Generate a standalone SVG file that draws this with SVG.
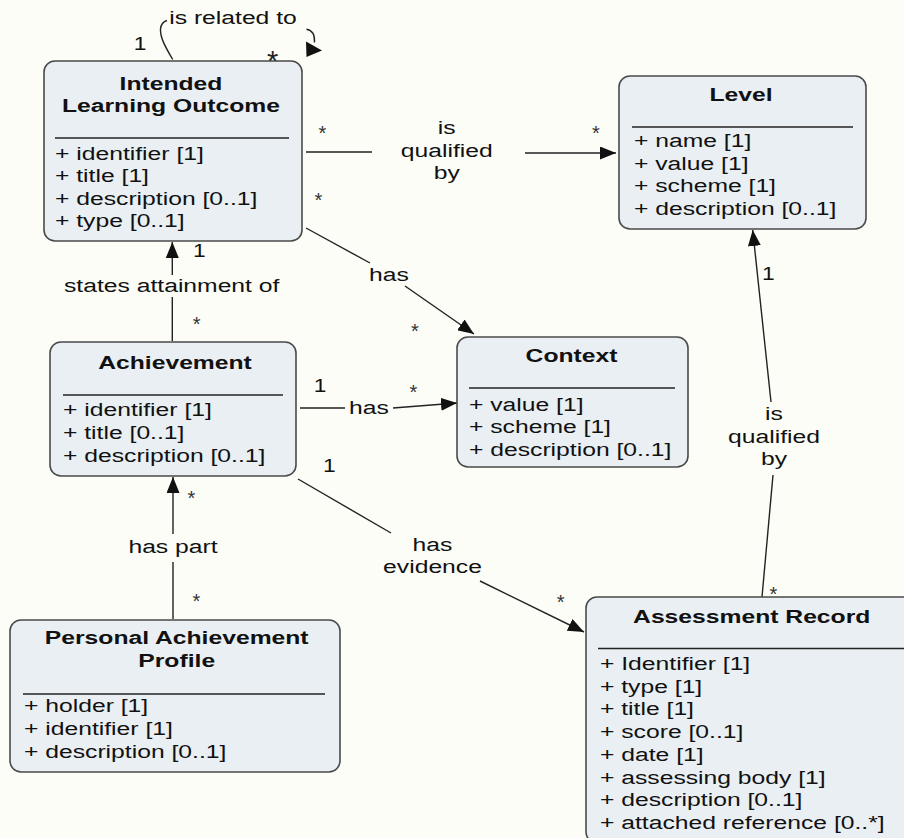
<svg xmlns="http://www.w3.org/2000/svg" width="904" height="838" viewBox="0 0 904 838">
<style>
.bg{fill:#fcfdf7}
.box{fill:#e9eff3;stroke:#4a4a4a;stroke-width:1.6}
.sep{stroke:#222;stroke-width:1.3}
.conn{stroke:#222;stroke-width:1.4;fill:none}
.title{font-family:"Liberation Sans",Arial,sans-serif;font-weight:bold;font-size:19px;text-anchor:middle;fill:#111}
.attr{font-family:"Liberation Sans",Arial,sans-serif;font-size:19px;fill:#111}
.lbl{font-family:"Liberation Sans",Arial,sans-serif;font-size:19px;text-anchor:middle;fill:#111}
.mult{font-family:"Liberation Sans",Arial,sans-serif;font-size:20px;text-anchor:middle;fill:#333}
.one{font-family:"Liberation Sans",Arial,sans-serif;font-size:19px;text-anchor:middle;fill:#111}
</style>
<defs>
<marker id="arr" markerUnits="userSpaceOnUse" markerWidth="16" markerHeight="13" refX="16" refY="6.5" orient="auto">
<path d="M0,0 L16,6.5 L0,13 z" fill="#111"/>
</marker>
</defs>
<rect class="bg" x="0" y="0" width="904" height="838"/>

<g id="connectors">
<!-- self loop: is related to -->
<path class="conn" d="M172.7,59.5 C166,48 160,38 160.5,29 C161,24 163.5,21.5 167,20.5"/>
<path class="conn" d="M306.5,29.3 C311,30 315,33.5 314.5,42.5"/>
<polygon points="306,41.5 322,50.5 306.5,57" fill="#111"/>
<g transform="translate(233,24) scale(1.3,1)"><text class="lbl" x="0" y="0">is related to</text></g>
<g transform="translate(140,50) scale(1.2,1)"><text class="one" x="0" y="0">1</text></g>
<text x="272.7" y="71" font-family="Liberation Sans, Arial, sans-serif" font-size="29" text-anchor="middle" fill="#222">*</text>

<!-- ILO is qualified by Level -->
<line class="conn" x1="306" y1="152" x2="372" y2="152"/>
<line class="conn" x1="525" y1="153" x2="616" y2="153" marker-end="url(#arr)"/>
<g transform="translate(446.7,134) scale(1.3,1)"><text class="lbl" x="0" y="0">is</text></g>
<g transform="translate(446.7,156.7) scale(1.3,1)"><text class="lbl" x="0" y="0">qualified</text></g>
<g transform="translate(446.7,179.3) scale(1.3,1)"><text class="lbl" x="0" y="0">by</text></g>
<text class="mult" x="322.3" y="139.6">*</text>
<text class="mult" x="596" y="140.3">*</text>

<!-- ILO has Context -->
<line class="conn" x1="306" y1="228" x2="370" y2="263"/>
<line class="conn" x1="405" y1="286" x2="474" y2="334" marker-end="url(#arr)"/>
<g transform="translate(389,280.7) scale(1.3,1)"><text class="lbl" x="0" y="0">has</text></g>
<text class="mult" x="318.3" y="207.3">*</text>
<text class="mult" x="415" y="338">*</text>

<!-- Achievement states attainment of ILO -->
<line class="conn" x1="172.3" y1="341" x2="172.3" y2="297"/>
<line class="conn" x1="172.3" y1="275" x2="172.3" y2="242" marker-end="url(#arr)"/>
<g transform="translate(171.7,292.3) scale(1.3,1)"><text class="lbl" x="0" y="0">states attainment of</text></g>
<g transform="translate(199.3,257.3) scale(1.2,1)"><text class="one" x="0" y="0">1</text></g>
<text class="mult" x="196.7" y="330.6">*</text>

<!-- Achievement has Context -->
<line class="conn" x1="300" y1="408" x2="345" y2="408"/>
<line class="conn" x1="393" y1="408" x2="457" y2="403" marker-end="url(#arr)"/>
<g transform="translate(369,414) scale(1.3,1)"><text class="lbl" x="0" y="0">has</text></g>
<g transform="translate(320,391.7) scale(1.2,1)"><text class="one" x="0" y="0">1</text></g>
<text class="mult" x="413.3" y="398.6">*</text>

<!-- Achievement has evidence Assessment Record -->
<line class="conn" x1="298" y1="479" x2="391" y2="533"/>
<line class="conn" x1="480" y1="581" x2="584" y2="632" marker-end="url(#arr)"/>
<g transform="translate(432.5,550.7) scale(1.3,1)"><text class="lbl" x="0" y="0">has</text></g>
<g transform="translate(432.5,573.3) scale(1.3,1)"><text class="lbl" x="0" y="0">evidence</text></g>
<g transform="translate(329.3,472.3) scale(1.2,1)"><text class="one" x="0" y="0">1</text></g>
<text class="mult" x="560.7" y="608.6">*</text>

<!-- PAP has part Achievement -->
<line class="conn" x1="173" y1="619" x2="173" y2="562"/>
<line class="conn" x1="173" y1="534" x2="173" y2="477" marker-end="url(#arr)"/>
<g transform="translate(173,552.7) scale(1.3,1)"><text class="lbl" x="0" y="0">has part</text></g>
<text class="mult" x="191.4" y="504.6">*</text>
<text class="mult" x="196.3" y="608">*</text>

<!-- Assessment Record is qualified by Level -->
<line class="conn" x1="762" y1="597" x2="773" y2="475"/>
<line class="conn" x1="771" y1="402" x2="752.7" y2="230" marker-end="url(#arr)"/>
<g transform="translate(774,420) scale(1.3,1)"><text class="lbl" x="0" y="0">is</text></g>
<g transform="translate(774,442.7) scale(1.3,1)"><text class="lbl" x="0" y="0">qualified</text></g>
<g transform="translate(774,465) scale(1.3,1)"><text class="lbl" x="0" y="0">by</text></g>
<g transform="translate(768.3,280) scale(1.2,1)"><text class="one" x="0" y="0">1</text></g>
<text class="mult" x="773.5" y="601.3">*</text>
</g>

<g id="ilo">
<rect class="box" x="44" y="61" width="258" height="180" rx="11"/>
<g transform="translate(171,90) scale(1.3,1)"><text class="title" x="0" y="0">Intended</text></g>
<g transform="translate(171,112) scale(1.3,1)"><text class="title" x="0" y="0">Learning Outcome</text></g>
<line class="sep" x1="55" y1="138" x2="289" y2="138"/>
<g transform="translate(55,159.5) scale(1.3,1)"><text class="attr" x="0" y="0">+ identifier [1]</text></g>
<g transform="translate(55,182) scale(1.3,1)"><text class="attr" x="0" y="0">+ title [1]</text></g>
<g transform="translate(55,204.5) scale(1.3,1)"><text class="attr" x="0" y="0">+ description [0..1]</text></g>
<g transform="translate(55,227) scale(1.3,1)"><text class="attr" x="0" y="0">+ type [0..1]</text></g>
</g>

<g id="level">
<rect class="box" x="619" y="76" width="247" height="153" rx="11"/>
<g transform="translate(741,101) scale(1.3,1)"><text class="title" x="0" y="0">Level</text></g>
<line class="sep" x1="632" y1="127" x2="853" y2="127"/>
<g transform="translate(634,147) scale(1.3,1)"><text class="attr" x="0" y="0">+ name [1]</text></g>
<g transform="translate(634,169.5) scale(1.3,1)"><text class="attr" x="0" y="0">+ value [1]</text></g>
<g transform="translate(634,192) scale(1.3,1)"><text class="attr" x="0" y="0">+ scheme [1]</text></g>
<g transform="translate(634,214.5) scale(1.3,1)"><text class="attr" x="0" y="0">+ description [0..1]</text></g>
</g>

<g id="context">
<rect class="box" x="457" y="337" width="231" height="130" rx="11"/>
<g transform="translate(571.5,362) scale(1.3,1)"><text class="title" x="0" y="0">Context</text></g>
<line class="sep" x1="469" y1="388" x2="675" y2="388"/>
<g transform="translate(469,411) scale(1.3,1)"><text class="attr" x="0" y="0">+ value [1]</text></g>
<g transform="translate(469,433) scale(1.3,1)"><text class="attr" x="0" y="0">+ scheme [1]</text></g>
<g transform="translate(469,455.5) scale(1.3,1)"><text class="attr" x="0" y="0">+ description [0..1]</text></g>
</g>

<g id="achievement">
<rect class="box" x="50" y="342" width="246" height="134" rx="11"/>
<g transform="translate(175,369) scale(1.3,1)"><text class="title" x="0" y="0">Achievement</text></g>
<line class="sep" x1="63" y1="395" x2="283" y2="395"/>
<g transform="translate(63,416) scale(1.3,1)"><text class="attr" x="0" y="0">+ identifier [1]</text></g>
<g transform="translate(63,439) scale(1.3,1)"><text class="attr" x="0" y="0">+ title [0..1]</text></g>
<g transform="translate(63,462) scale(1.3,1)"><text class="attr" x="0" y="0">+ description [0..1]</text></g>
</g>

<g id="pap">
<rect class="box" x="10" y="620" width="330" height="152" rx="11"/>
<g transform="translate(176.7,644) scale(1.3,1)"><text class="title" x="0" y="0">Personal Achievement</text></g>
<g transform="translate(176.7,666.7) scale(1.3,1)"><text class="title" x="0" y="0">Profile</text></g>
<line class="sep" x1="23" y1="694" x2="325" y2="694"/>
<g transform="translate(24,712) scale(1.3,1)"><text class="attr" x="0" y="0">+ holder [1]</text></g>
<g transform="translate(24,735) scale(1.3,1)"><text class="attr" x="0" y="0">+ identifier [1]</text></g>
<g transform="translate(24,758) scale(1.3,1)"><text class="attr" x="0" y="0">+ description [0..1]</text></g>
</g>

<g id="assessment-record">
<rect class="box" x="586" y="597" width="330" height="246" rx="11"/>
<g transform="translate(751.7,622.7) scale(1.3,1)"><text class="title" x="0" y="0">Assessment Record</text></g>
<line class="sep" x1="598" y1="648.5" x2="904" y2="648.5"/>
<g transform="translate(600,670) scale(1.3,1)"><text class="attr" x="0" y="0">+ Identifier [1]</text></g>
<g transform="translate(600,692.7) scale(1.3,1)"><text class="attr" x="0" y="0">+ type [1]</text></g>
<g transform="translate(600,715.4) scale(1.3,1)"><text class="attr" x="0" y="0">+ title [1]</text></g>
<g transform="translate(600,738) scale(1.3,1)"><text class="attr" x="0" y="0">+ score [0..1]</text></g>
<g transform="translate(600,760.8) scale(1.3,1)"><text class="attr" x="0" y="0">+ date [1]</text></g>
<g transform="translate(600,783.5) scale(1.3,1)"><text class="attr" x="0" y="0">+ assessing body [1]</text></g>
<g transform="translate(600,806.2) scale(1.3,1)"><text class="attr" x="0" y="0">+ description [0..1]</text></g>
<g transform="translate(600,829) scale(1.3,1)"><text class="attr" x="0" y="0">+ attached reference [0..*]</text></g>
</g>
</svg>
